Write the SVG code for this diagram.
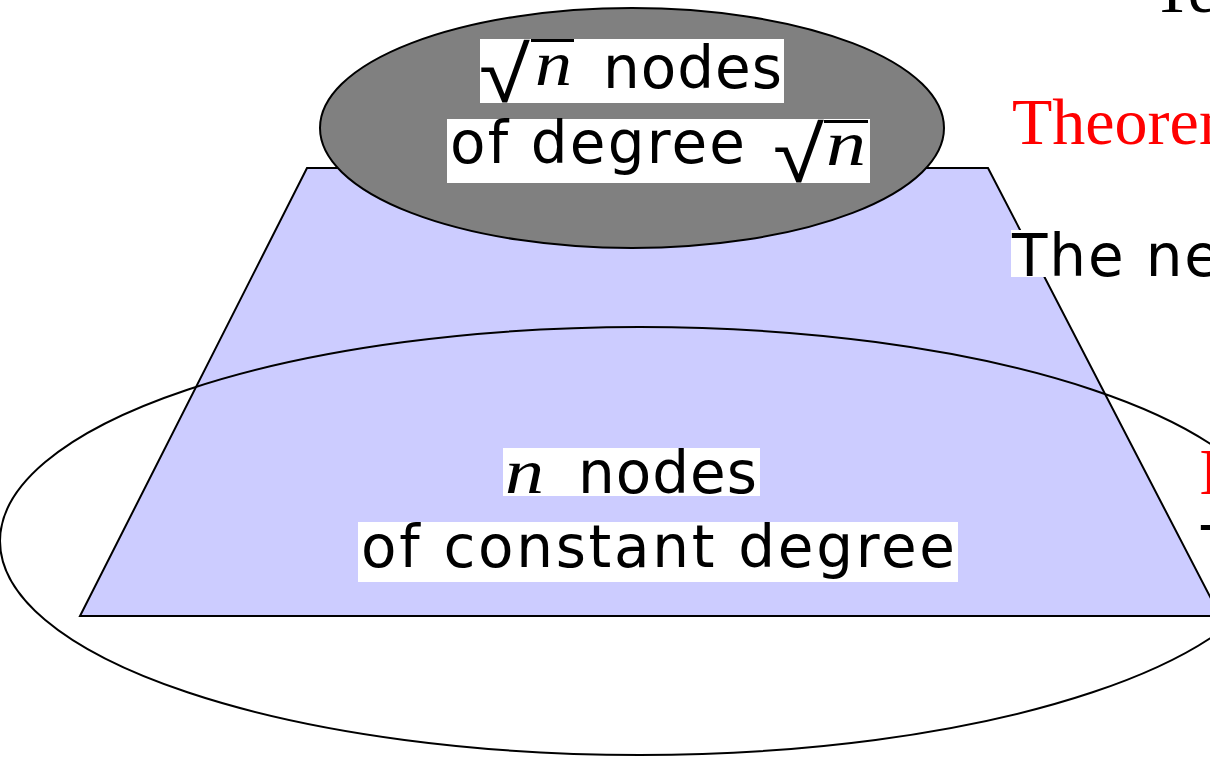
<svg xmlns="http://www.w3.org/2000/svg" width="1210" height="758" viewBox="0 0 1210 758">
<style>
.sans{font-family:"DejaVu Sans",sans-serif;font-size:58px;fill:#000}
.mi{font-family:"Liberation Serif",serif;font-style:italic;font-size:63px;fill:#000}
.rad{font-family:"DejaVu Sans",sans-serif;font-size:64px;font-weight:200;fill:#000}
.serif{font-family:"Liberation Serif",serif;font-size:66px}
.bg{fill:#fff}
.ln{stroke:#000;stroke-width:2;fill:none}
.vin{stroke:#000;stroke-width:3}
</style>
<rect width="1210" height="758" fill="#fff"/>
<g id="trapezoid">
<polygon points="307,168 988,168 1220,616 80,616" fill="#ccccff" stroke="#000" stroke-width="2"/>
</g>
<g id="top-node">
<ellipse cx="632" cy="128" rx="312" ry="120" fill="#808080" stroke="#000" stroke-width="2"/>
</g>
<g id="bottom-node">
<ellipse cx="640" cy="541" rx="640" ry="214" class="ln"/>
</g>
<g id="connectors"></g>
<g id="top-label">
<rect class="bg" x="480" y="39" width="304" height="64"/>
<text class="rad" transform="translate(479,102) scale(1.45,1.23)">√</text>
<line class="vin" x1="531" y1="40.5" x2="574" y2="40.5"/>
<text class="mi" x="535" y="85" textLength="37" lengthAdjust="spacingAndGlyphs">n</text>
<text class="sans" x="603" y="88" textLength="179" lengthAdjust="spacing">nodes</text>
<rect class="bg" x="447" y="119" width="423" height="64"/>
<text class="sans" x="450" y="163" textLength="295" lengthAdjust="spacing">of degree</text>
<text class="rad" transform="translate(773,182) scale(1.45,1.23)">√</text>
<line class="vin" x1="824" y1="121.5" x2="868" y2="121.5"/>
<text class="mi" x="826" y="165" textLength="40" lengthAdjust="spacingAndGlyphs">n</text>
</g>
<g id="bottom-label">
<rect class="bg" x="503" y="448" width="257" height="48"/>
<text class="mi" x="505" y="493" textLength="39" lengthAdjust="spacingAndGlyphs">n</text>
<text class="sans" x="578" y="493" textLength="179" lengthAdjust="spacing">nodes</text>
<rect class="bg" x="358" y="522" width="600" height="60"/>
<text class="sans" x="361" y="567" textLength="594" lengthAdjust="spacing">of constant degree</text>
</g>
<g id="side-text">
<text class="serif" x="1152" y="12" fill="#000">Te</text>
<text class="serif" x="1012" y="144" fill="#ff0000">Theorem</text>
<rect class="bg" x="1011" y="230" width="199" height="47"/>
<text class="sans" x="1012" y="276" textLength="208" lengthAdjust="spacing">The ne</text>
<text class="serif" x="1199" y="494" fill="#ff0000">I</text>
<text class="sans" x="1201" y="568">T</text>
</g>
</svg>
